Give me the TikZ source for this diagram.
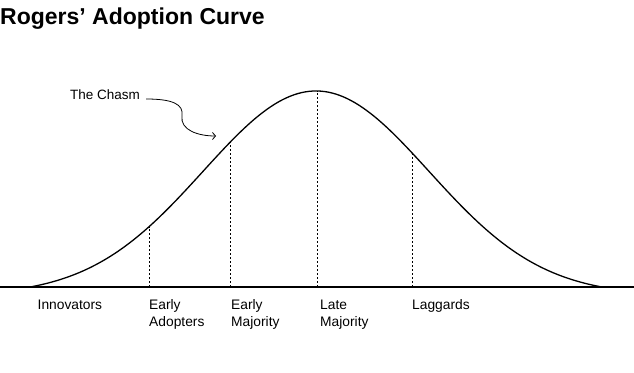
\documentclass[tikz,border=0pt]{standalone}
\usepackage{fontspec}
\setmainfont{Liberation Sans}
\usepackage{tikz}
\usetikzlibrary{arrows.meta,positioning,calc}
\newcommand{\grplabel}[1]{\begin{tabular}[t]{@{}l@{}}#1\end{tabular}}

\begin{document}
\begin{tikzpicture}[x=1pt,y=1pt,
    declare function={bell(\u)=196*(exp(-(\u)^2/2.5538)-0.0407)/0.9593;},
    phase/.style={anchor=base west,inner sep=0pt,font=\fontsize{13.8}{17}\selectfont},
    gap/.style={line width=0.9pt,dash pattern=on 2pt off 2pt}]
      \useasboundingbox (0,0) rectangle (634,372);
      % title and axis
      \node[anchor=base west,inner sep=0pt,font=\fontsize{23}{26}\selectfont\bfseries] (title) at (0,347) {Rogers’ Adoption Curve};
      \coordinate (axl) at (0,85);
      \coordinate (axr) at (634,85);
      \draw[line width=1.4pt] (axl) -- (axr);
      % bell curve
      \draw[line width=1.3pt] plot[domain=30:600,samples=150] (\x,{85+bell((\x-316)/100)});
      % dividers between the groups
      \foreach \n/\xx in {ea/149,em/230,lm/317,lg/412} {
        \coordinate (\n-base) at (\xx,85);
        \coordinate (\n-top) at (\xx,{85+bell((\xx-316)/100)});
        \draw[gap] (\n-base) -- (\n-top);
      }
      % group labels
      \node[phase] (inn) at (37.5,63) {Innovators};
      \node[phase] (ea) at (149,63) {\grplabel{Early\\Adopters}};
      \node[phase] (em) at (231,63) {\grplabel{Early\\Majority}};
      \node[phase] (lm) at (320,63) {\grplabel{Late\\Majority}};
      \node[phase] (lg) at (412,63) {Laggards};
      % the chasm
      \node[anchor=base west,inner sep=0pt,font=\fontsize{13.5}{16}\selectfont] (chasm) at (70,272) {The Chasm};
      \coordinate (chasm-end) at (216,236);
      \draw[line width=0.8pt,-{Straight Barb[length=3pt,width=7pt]}] ($(chasm.base east)+(6,1)$) .. controls (172,273) and (184,268) .. (182,256) .. controls (180,242) and (198,236) .. (chasm-end);
    \end{tikzpicture}
\end{document}
